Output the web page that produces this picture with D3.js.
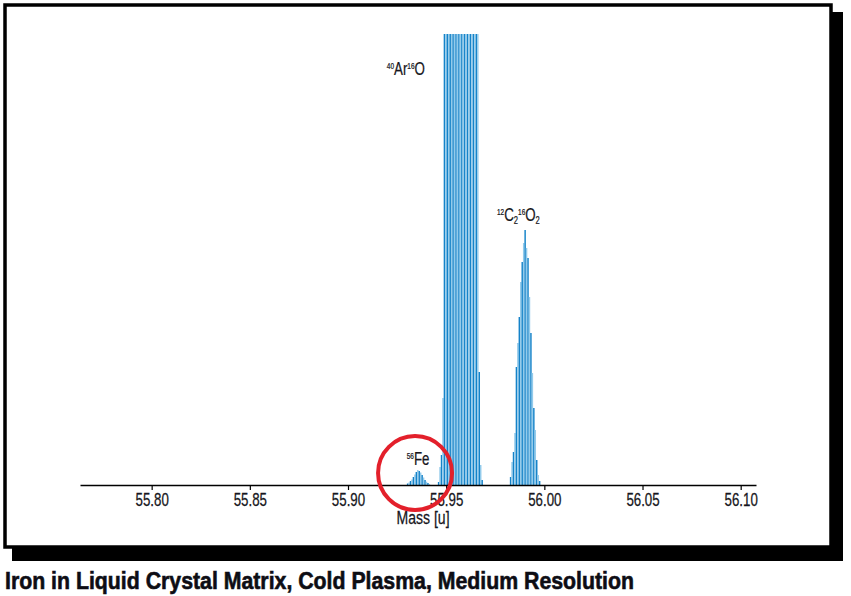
<!DOCTYPE html>
<html>
<head>
<meta charset="utf-8">
<script src="https://cdn.jsdelivr.net/npm/d3@7"></script>
<style>
  body { margin: 0; background: #fff; }
  .narrow { font-family: "Liberation Sans", Arial, sans-serif; }
  .caption { font-family: "Liberation Sans", Arial, sans-serif; font-weight: bold; }
</style>
</head>
<body>
<div id="container"></div>
<script>
// x ticks of the mass axis
var massTicks = [55.80, 55.85, 55.90, 55.95, 56.00, 56.05, 56.10];

// detector channel width in u, and first channel of each peak
var channelWidth = 0.00074;
var feStart = 55.92999;
var aroStart = 55.94577;
var co2Start = 55.98244;

// intensities per channel (a.u.), ArO runs far off scale
var feCounts = [1.5, 2.5, 4, 5.5, 8, 10.5, 13, 15, 14, 12.5, 10, 7.5, 5, 3.3, 2, 1];
var aroCounts = [3, 18, 30, 87,
                 980, 1900, 3400, 5600, 8100, 10400, 12100, 13200, 13600, 13300, 12400, 10900,
                 9000, 7100, 5300, 3700, 2500, 1600, 1050, 760, 620, 540, 500, 470,
                 113, 20, 5];
var co2Counts = [8, 23, 33, 52, 118, 142, 168, 203, 223, 242, 255, 237, 227, 188, 152, 112, 77, 55, 25, 10, 4];

var yMax = 451;
var caption = "Iron in Liquid Crystal Matrix, Cold Plasma, Medium Resolution";

var darkBlue = "#1583c9", lightBlue = "#93cbeb";
var squeeze = 0.76; // stand-in for the condensed face

function toChannels(start, counts) {
  return counts.map(function (c, i) {return {mass: start + i * channelWidth, value: c};});
}

function drawChart() {
  var width = 851, height = 596;
  var svg = d3.select("#container").
  append("svg").
  attr("width", width).
  attr("height", height);

  // frame with drop shadow
  svg.append("rect").
  attr("x", 12).attr("y", 12).
  attr("width", 831).attr("height", 549).
  attr("fill", "#000");
  svg.append("rect").
  attr("x", 5).attr("y", 5).
  attr("width", 826).attr("height", 542).
  attr("fill", "#fff").
  attr("stroke", "#000").
  attr("stroke-width", 3.5);

  var x = d3.scaleLinear().domain([55.7635, 56.1078]).range([80, 756]);
  var y = d3.scaleLinear().domain([0, yMax]).range([485, 34]);

  svg.append("clipPath").
  attr("id", "plotclip").
  append("rect").
  attr("x", 80).attr("y", 34).
  attr("width", 676).attr("height", 451);

  var bars = svg.append("g").attr("clip-path", "url(#plotclip)");
  [feCounts, aroCounts, co2Counts].forEach(function (counts, k) {
    var start = [feStart, aroStart, co2Start][k];
    bars.append("g").
    selectAll("rect").
    data(toChannels(start, counts)).
    enter().
    append("rect").
    attr("x", function (d) {return x(d.mass);}).
    attr("width", function (d) {return x(d.mass + channelWidth) - x(d.mass);}).
    attr("y", function (d) {return y(d.value);}).
    attr("height", function (d) {return y(0) - y(d.value);}).
    attr("fill", function (d, i) {return i % 2 ? lightBlue : darkBlue;});
  });

  // mass axis
  var axis = d3.axisBottom(x).
  tickValues(massTicks).
  tickFormat(d3.format(".2f")).
  tickSize(5).
  tickSizeOuter(0).
  tickPadding(4);
  var ax = svg.append("g").
  attr("transform", "translate(0,485)").
  call(axis);
  ax.select(".domain").attr("stroke", "#000").attr("stroke-width", 1.5);
  ax.selectAll(".tick line").attr("stroke", "#000").attr("stroke-width", 1.2);
  ax.selectAll(".tick text").
  attr("class", "narrow").
  attr("fill", "#161620").
  attr("stroke", "#161620").
  attr("stroke-width", 0.25).
  attr("transform", "scale(" + squeeze + ",1)").
  style("font-size", "17.5px").
  attr("font-family", null);

  svg.append("text").
  attr("class", "narrow").
  attr("transform", "translate(423,524) scale(" + squeeze + ",1)").
  attr("text-anchor", "middle").
  style("font-size", "18.5px").
  attr("fill", "#161620").
  attr("stroke", "#161620").
  attr("stroke-width", 0.25).
  text("Mass [u]");

  // peak labels: [superscript/subscript, text] parts
  function label(parts, px, py, anchor) {
    var t = svg.append("text").
    attr("class", "narrow").
    attr("transform", "translate(" + px + "," + py + ") scale(0.72,1)").
    attr("text-anchor", anchor).
    attr("fill", "#161620").
    attr("stroke", "#161620").
    attr("stroke-width", 0.25).
    style("font-size", "18.5px");
    var shift = 0;
    parts.forEach(function (p) {
      var dy = 0, size = "18.5px";
      if (p[0] == "sup") {dy = -6.5 - shift; shift = -6.5; size = "9px";}
      else if (p[0] == "sub") {dy = 3 - shift; shift = 3; size = "10.5px";}
      else {dy = -shift; shift = 0;}
      t.append("tspan").
      attr("dy", dy).
      style("font-size", size).
      text(p[1]);
    });
    return t;
  }

  var feMass = feStart + 7 * channelWidth;
  label([["sup", "56"], ["n", "Fe"]], x(feMass) + 1, y(feCounts[7]) - 5, "middle");
  label([["sup", "40"], ["n", "Ar"], ["sup", "16"], ["n", "O"]], x(aroStart) - 13, 75, "end");
  label([["sup", "12"], ["n", "C"], ["sub", "2"], ["sup", "16"], ["n", "O"], ["sub", "2"]],
  x(co2Start + 10 * channelWidth) - 6, y(co2Counts[10]) - 9, "middle");

  // highlight the iron peak
  svg.append("circle").
  attr("cx", x(feMass) - 2).
  attr("cy", 473).
  attr("r", 37).
  attr("fill", "none").
  attr("stroke", "#e3202b").
  attr("stroke-width", 4);

  // caption under the frame
  svg.append("text").
  attr("class", "caption").
  attr("x", 5).attr("y", 588.5).
  attr("fill", "#0d0d14").
  attr("stroke", "#0d0d14").
  attr("stroke-width", 0.6).
  style("font-size", "23.5px").
  attr("textLength", 629).
  attr("lengthAdjust", "spacingAndGlyphs").
  text(caption);
}

window.onload = drawChart;
</script>
</body>
</html>
